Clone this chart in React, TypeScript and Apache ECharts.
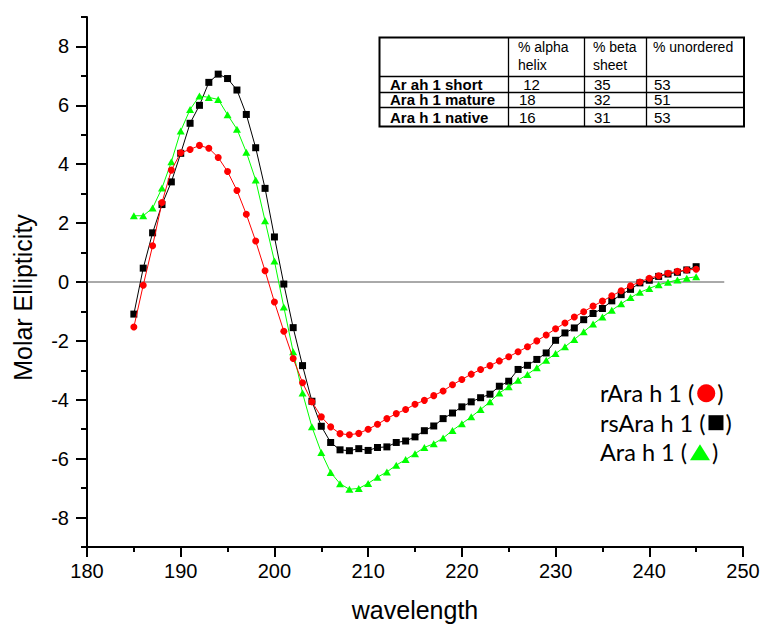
import React, { useEffect, useRef } from "react";
import * as echarts from "echarts";

// ---------- DATA ----------
const wavelength = [
  185, 186, 187, 188, 189, 190, 191, 192, 193, 194, 195, 196, 197, 198, 199, 200,
  201, 202, 203, 204, 205, 206, 207, 208, 209, 210, 211, 212, 213, 214, 215, 216,
  217, 218, 219, 220, 221, 222, 223, 224, 225, 226, 227, 228, 229, 230, 231, 232,
  233, 234, 235, 236, 237, 238, 239, 240, 241, 242, 243, 244, 245,
];

// rAra h 1 (red circles)
const rAra = [
  -1.53, -0.11, 1.23, 2.7, 3.8, 4.39, 4.5, 4.64, 4.54, 4.23, 3.75, 3.11, 2.3, 1.39, 0.38, -0.68,
  -1.67, -2.6, -3.42, -4.07, -4.58, -4.92, -5.15, -5.19, -5.14, -5.0, -4.83, -4.64, -4.47, -4.33, -4.15, -4.02,
  -3.86, -3.7, -3.49, -3.31, -3.13, -2.97, -2.84, -2.68, -2.54, -2.37, -2.2, -2.0, -1.8, -1.59, -1.39, -1.19,
  -1.01, -0.82, -0.65, -0.47, -0.3, -0.13, 0.0, 0.13, 0.21, 0.3, 0.36, 0.41, 0.43,
];

// rsAra h 1 (black squares)
const rsAra = [
  -1.09, 0.47, 1.67, 2.63, 3.4, 4.37, 5.39, 6.0, 6.78, 7.06, 6.91, 6.52, 5.69, 4.56, 3.18, 1.53,
  -0.07, -1.55, -2.84, -4.05, -4.9, -5.45, -5.7, -5.73, -5.66, -5.72, -5.62, -5.6, -5.45, -5.4, -5.26, -5.05,
  -4.89, -4.64, -4.45, -4.24, -4.07, -3.93, -3.81, -3.54, -3.37, -2.97, -2.83, -2.63, -2.41, -1.98, -1.73, -1.56,
  -1.28, -1.07, -0.9, -0.64, -0.43, -0.25, -0.03, 0.06, 0.19, 0.27, 0.33, 0.41, 0.52,
];

// Ara h 1 (green triangles)
const araH1 = [
  2.25, 2.25, 2.51, 3.19, 4.08, 5.13, 5.86, 6.32, 6.27, 6.2, 5.68, 5.19, 4.41, 3.46, 2.08, 0.71,
  -0.85, -2.37, -3.77, -4.92, -5.79, -6.47, -6.85, -7.04, -7.01, -6.84, -6.63, -6.45, -6.22, -6.03, -5.83, -5.62,
  -5.49, -5.3, -5.04, -4.81, -4.58, -4.33, -4.07, -3.77, -3.56, -3.34, -3.14, -2.91, -2.66, -2.43, -2.2, -1.95,
  -1.69, -1.43, -1.19, -0.96, -0.74, -0.53, -0.35, -0.22, -0.09, -0.01, 0.07, 0.13, 0.18,
];

const yMajorTicks = [-8, -6, -4, -2, 0, 2, 4, 6, 8];
const zeroLine = [
  [180, 0],
  [248, 0],
];

const tableHeaderTop = ["% alpha", "% beta", "% unordered"];
const tableHeaderBottom = ["helix", "sheet", ""];
const tableRowNames = ["Ar ah 1 short", "Ara h 1 mature", "Ara h 1 native"];
const alphaHelix = [" 12", "18", "16"];
const betaSheet = ["35", "32", "31"];
const unordered = ["53", "51", "53"];

const legendLabels = ["rAra h 1 (", "rsAra h 1 (", "Ara h 1 ("];

// ---------- STYLE ----------
const RED = "#ff0000";
const BLACK = "#000000";
const GREEN = "#00ff00";
const AXIS_FONT = "'Liberation Sans', Arial, sans-serif";
const LEGEND_FONT = "Lato, 'Open Sans', sans-serif";

function measure(text: string, font: string): number {
  const c = document.createElement("canvas").getContext("2d");
  if (!c) return text.length * 10;
  c.font = font;
  return c.measureText(text).width;
}

function buildTable(): any[] {
  const x0 = 379.5;
  const x1 = 744;
  const y0 = 37.5;
  const y1 = 126.5;
  const colX = [508.5, 584.5, 646.5];
  const rowY = [76.5, 92.5, 107.5];
  const els: any[] = [];
  els.push({
    type: "rect",
    shape: { x: x0, y: y0, width: x1 - x0, height: y1 - y0 },
    style: { fill: "#ffffff", stroke: "#000", lineWidth: 2 },
    z: 10,
  });
  rowY.forEach((y) =>
    els.push({
      type: "line",
      shape: { x1: x0, y1: y, x2: x1, y2: y },
      style: { stroke: "#000", lineWidth: 1.3 },
      z: 11,
    })
  );
  colX.forEach((x) =>
    els.push({
      type: "line",
      shape: { x1: x, y1: y0, x2: x, y2: y1 },
      style: { stroke: "#000", lineWidth: 1.3 },
      z: 11,
    })
  );
  const textX = [518, 593, 653];
  const txt = (s: string, x: number, y: number, bold = false, size = 15) => ({
    type: "text",
    x,
    y,
    z: 12,
    style: {
      text: s,
      fontFamily: AXIS_FONT,
      fontSize: size,
      fontWeight: bold ? "bold" : "normal",
      fill: "#000",
      align: "left",
      verticalAlign: "middle",
    },
  });
  tableHeaderTop.forEach((s, i) => els.push(txt(s, textX[i], 47, false, 14)));
  tableHeaderBottom.forEach((s, i) => {
    if (s) els.push(txt(s, textX[i], 64.5, false, 14));
  });
  const rowCY = [84, 99.5, 117];
  tableRowNames.forEach((s, i) => {
    els.push(txt(s, 390, rowCY[i], true));
    els.push(txt(alphaHelix[i], 519, rowCY[i]));
    els.push(txt(betaSheet[i], 594, rowCY[i]));
    els.push(txt(unordered[i], 654, rowCY[i]));
  });
  return els;
}

function buildLegend(): any[] {
  const fs = 23.5;
  const font = `${fs}px Lato`;
  const lx = 600;
  const rowsY = [393.3, 422.7, 452.3];
  const els: any[] = [];
  legendLabels.forEach((label, i) => {
    const cy = rowsY[i];
    const w = measure(label, font);
    els.push({
      type: "text",
      x: lx,
      y: cy,
      z: 12,
      style: {
        text: label,
        fontFamily: LEGEND_FONT,
        fontSize: fs,
        fill: "#000",
        align: "left",
        verticalAlign: "middle",
      },
    });
    const mx = lx + w + 3;
    let mw = 0;
    if (i === 0) {
      mw = 18;
      els.push({
        type: "circle",
        shape: { cx: mx + 9, cy, r: 9 },
        style: { fill: RED },
        z: 12,
      });
    } else if (i === 1) {
      mw = 15;
      els.push({
        type: "rect",
        shape: { x: mx, y: cy - 7.5, width: 15, height: 15 },
        style: { fill: BLACK },
        z: 12,
      });
    } else {
      mw = 20;
      els.push({
        type: "polygon",
        shape: {
          points: [
            [mx, cy + 8],
            [mx + 10, cy - 8],
            [mx + 20, cy + 8],
          ],
        },
        style: { fill: GREEN },
        z: 12,
      });
    }
    els.push({
      type: "text",
      x: mx + mw + 2,
      y: cy,
      z: 12,
      style: {
        text: ")",
        fontFamily: LEGEND_FONT,
        fontSize: fs,
        fill: "#000",
        align: "left",
        verticalAlign: "middle",
      },
    });
  });
  return els;
}

export default function App() {
  const ref = useRef<HTMLDivElement>(null);

  useEffect(() => {
    if (!ref.current) return;
    const chart = echarts.init(ref.current, null, { renderer: "svg" });

    const toPairs = (vals: number[]) => wavelength.map((w, i) => [w, vals[i]]);

    const option: any = {
      animation: false,
      backgroundColor: "#ffffff",
      grid: { left: 87, top: 17, width: 656, height: 530, containLabel: false },
      xAxis: {
        type: "value",
        min: 180,
        max: 250,
        interval: 10,
        name: "wavelength",
        nameLocation: "middle",
        nameGap: 50,
        nameTextStyle: { fontFamily: AXIS_FONT, fontSize: 25, color: "#000" },
        axisLine: { show: true, onZero: false, lineStyle: { color: "#000", width: 2 } },
        axisTick: { show: true, inside: false, length: 10, lineStyle: { color: "#000", width: 2 } },
        minorTick: { show: true, splitNumber: 2, length: 5, lineStyle: { color: "#000", width: 2 } },
        axisLabel: { fontFamily: AXIS_FONT, fontSize: 20, color: "#000", margin: 14 },
        splitLine: { show: false },
        minorSplitLine: { show: false },
      },
      yAxis: [
        {
          type: "value",
          min: -9,
          max: 9,
          interval: 1,
          position: "left",
          axisLine: { show: true, onZero: false, lineStyle: { color: "#000", width: 2 } },
          axisTick: { show: true, inside: false, length: 6, lineStyle: { color: "#000", width: 2 } },
          axisLabel: { show: false },
          splitLine: { show: false },
        },
        {
          type: "value",
          min: -9,
          max: 9,
          position: "left",
          offset: 0,
          axisLine: { show: false, onZero: false },
          axisTick: {
            show: true,
            inside: false,
            length: 11,
            customValues: yMajorTicks,
            lineStyle: { color: "#000", width: 2 },
          },
          axisLabel: {
            show: true,
            customValues: yMajorTicks,
            fontFamily: AXIS_FONT,
            fontSize: 20,
            color: "#000",
            margin: 18,
          },
          splitLine: { show: false },
        },
      ],
      series: [
        {
          name: "zero",
          type: "line",
          data: zeroLine,
          showSymbol: false,
          symbol: "none",
          silent: true,
          lineStyle: { color: "#555555", width: 1 },
          z: 1,
        },
        {
          name: "rsAra h 1",
          type: "line",
          data: toPairs(rsAra),
          symbol: "rect",
          symbolSize: 7,
          itemStyle: { color: BLACK },
          lineStyle: { color: BLACK, width: 1 },
          z: 2,
        },
        {
          name: "Ara h 1",
          type: "line",
          data: toPairs(araH1),
          symbol: "triangle",
          symbolSize: [8, 7],
          itemStyle: { color: GREEN },
          lineStyle: { color: GREEN, width: 1 },
          z: 3,
        },
        {
          name: "rAra h 1",
          type: "line",
          data: toPairs(rAra),
          symbol: "circle",
          symbolSize: 7,
          itemStyle: { color: RED },
          lineStyle: { color: RED, width: 1 },
          z: 4,
        },
      ],
      graphic: [
        {
          type: "text",
          x: 23,
          y: 297.5,
          rotation: Math.PI / 2,
          style: {
            text: "Molar Ellipticity",
            fontFamily: AXIS_FONT,
            fontSize: 25,
            fill: "#000",
            align: "center",
            verticalAlign: "middle",
          },
        },
        ...buildTable(),
        ...buildLegend(),
      ],
    };

    chart.setOption(option);
    return () => chart.dispose();
  }, []);

  return (
    <div
      ref={ref}
      style={{ position: "absolute", left: 0, top: 0, width: 775, height: 629, background: "#fff" }}
    />
  );
}
